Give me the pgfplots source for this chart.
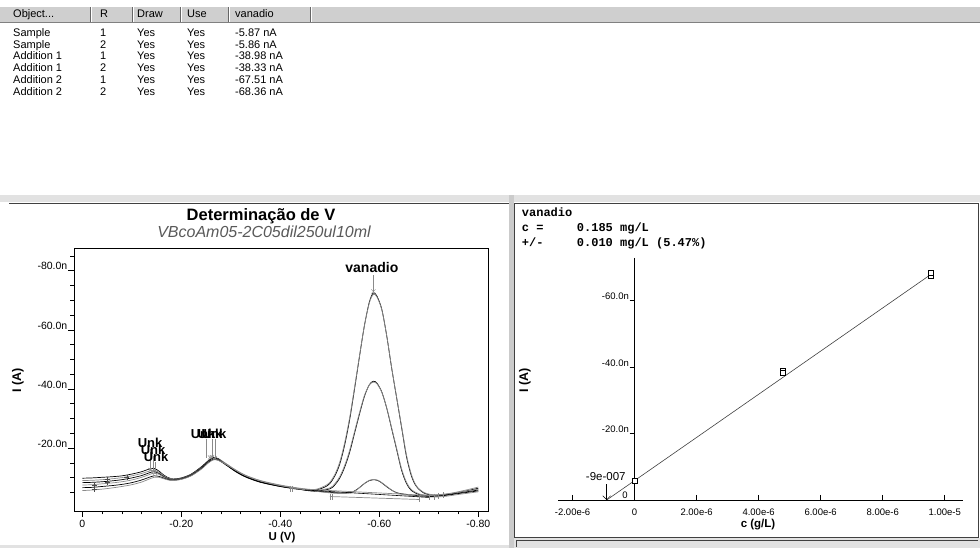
\documentclass[border=0pt]{standalone}
\usepackage{pgfplots}
\pgfplotsset{compat=1.18}
\usetikzlibrary{arrows.meta}
\usepackage{fontspec}
\setmainfont{Liberation Sans}
\newfontfamily\monofont{Liberation Mono}
\definecolor{hdr}{HTML}{CFCFCF}
\definecolor{strip}{HTML}{E2E2E2}
\definecolor{crv}{HTML}{8A8A8A}
\definecolor{frm}{HTML}{404040}

\begin{document}
\begin{tikzpicture}
\useasboundingbox (0pt,0pt) rectangle (980pt,548pt);
% --- table at the top
\fill[hdr] (0pt,526pt) rectangle (980pt,541pt);
\draw[gray] (0pt,526pt) -- (980pt,526pt);
\foreach \sx in {90,132,180,228,310}{
  \draw[gray!80!black] (\sx pt,526pt) -- (\sx pt,541pt);
  \draw[white] (\sx pt+1pt,526pt) -- (\sx pt+1pt,541pt);}
\begin{scope}[every node/.style={anchor=base west, inner sep=0pt, font=\fontsize{11}{12}\selectfont}]
\node at (13pt,530pt) {Object...};
\node at (100pt,530pt) {R};
\node at (137pt,530pt) {Draw};
\node at (187pt,530pt) {Use};
\node at (235pt,530pt) {vanadio};
\foreach \nm/\r/\v [count=\i from 0] in {Sample/1/-5.87 nA, Sample/2/-5.86 nA, Addition 1/1/-38.98 nA, Addition 1/2/-38.33 nA, Addition 2/1/-67.51 nA, Addition 2/2/-68.36 nA}{
  \node at (13pt,511.7pt-11.75pt*\i) {\nm};
  \node at (100pt,511.7pt-11.75pt*\i) {\r};
  \node at (137pt,511.7pt-11.75pt*\i) {Yes};
  \node at (187pt,511.7pt-11.75pt*\i) {Yes};
  \node at (235pt,511.7pt-11.75pt*\i) {\v};}
\end{scope}
% --- panel frames
\fill[strip] (0pt,346pt) rectangle (980pt,353pt);
\draw[frm, line width=0.8pt] (9pt,345pt) -- (509pt,345pt);
\fill[strip!90!black] (509pt,0pt) rectangle (514pt,353pt);
\draw[frm, line width=0.8pt] (514pt,11pt) rectangle (978pt,345pt);
\fill[strip] (514pt,0pt) rectangle (980pt,10pt);
\draw[frm] (516pt,1pt) -- (516pt,8pt) -- (978pt,8pt);
\fill[strip] (0pt,0pt) rectangle (509pt,3pt);

% --- titles of the voltammogram
\node[anchor=base, font=\fontsize{16.5}{18}\selectfont\bfseries] at (261pt,327pt) {Determinação de V};
\node[anchor=base, text=black!65, font=\fontsize{16}{18}\selectfont\itshape] at (264pt,310pt) {VBcoAm05-2C05dil250ul10ml};
\node[rotate=90, font=\fontsize{12.5}{14}\selectfont\bfseries] at (18pt,168pt) {I (A)};
\node[font=\fontsize{11.5}{13}\selectfont\bfseries] at (282pt,10pt) {U (V)};

\begin{axis}[
  at={(74pt,37pt)}, anchor=south west, scale only axis,
  width=414pt, height=263pt,
  xmin=-0.8196, xmax=0.0168, x dir=reverse,
  ymin=-87.7, ymax=1.3, y dir=reverse,
  xtick={0,-0.2,-0.4,-0.6,-0.8},
  xticklabels={0,-0.20,-0.40,-0.60,-0.80},
  minor xtick={-0.04,-0.08,-0.12,-0.16,-0.24,-0.28,-0.32,-0.36,-0.44,-0.48,-0.52,-0.56,-0.64,-0.68,-0.72,-0.76},
  ytick={-80,-60,-40,-20},
  yticklabels={-80.0n,-60.0n,-40.0n,-20.0n},
  minor ytick={-85,-75,-70,-65,-55,-50,-45,-35,-30,-25,-15,-10,-5},
  xtick pos=left, ytick pos=left, tick align=outside,
  major tick length=6pt, minor tick length=3.5pt,
  tick style={black, line width=0.6pt},
  axis line style={line width=0.8pt},
  ticklabel style={font=\fontsize{10.5}{12}\selectfont},
  yticklabel style={anchor=south east, inner sep=0.5pt, yshift=0pt},
  scaled x ticks=false, scaled y ticks=false,
  clip=false,
]
% Addition 2, replicate 1
\addplot[black, line width=0.7pt, smooth, tension=0.5] coordinates {
(0,-9.8) (-0.02,-9.9) (-0.04,-10.1) (-0.06,-10.3) (-0.08,-10.6) (-0.10,-11.2) (-0.12,-12.0) (-0.135,-12.9) (-0.145,-13.1) (-0.155,-12.2) (-0.165,-10.8) (-0.18,-9.6) (-0.20,-9.9) (-0.22,-11.2) (-0.24,-13.6) (-0.255,-15.8) (-0.265,-16.8) (-0.275,-16.4) (-0.29,-14.6) (-0.31,-12.2) (-0.33,-10.4) (-0.36,-8.6) (-0.40,-7.2) (-0.44,-6.2) (-0.47,-5.8) (-0.49,-6.8) (-0.50,-8.0) (-0.51,-10.5) (-0.52,-14.5) (-0.53,-21) (-0.54,-29.5) (-0.55,-40) (-0.56,-51) (-0.57,-61.5) (-0.58,-69.5) (-0.588,-72.5) (-0.595,-71.5) (-0.605,-67) (-0.615,-58) (-0.625,-47) (-0.635,-37) (-0.645,-27) (-0.655,-17) (-0.665,-10.5) (-0.675,-7) (-0.69,-4.8) (-0.71,-4.0) (-0.74,-4.4) (-0.77,-5.3) (-0.80,-6.4)};
% Addition 2, replicate 2
\addplot[crv, line width=0.7pt, smooth, tension=0.5] coordinates {
(0,-9.0) (-0.02,-9.1) (-0.04,-9.3) (-0.06,-9.6) (-0.08,-10.0) (-0.10,-10.6) (-0.12,-11.4) (-0.135,-12.2) (-0.145,-12.5) (-0.155,-11.8) (-0.165,-10.6) (-0.18,-9.5) (-0.20,-9.8) (-0.22,-11.0) (-0.24,-13.4) (-0.255,-15.6) (-0.265,-16.6) (-0.275,-16.3) (-0.29,-14.8) (-0.31,-12.6) (-0.33,-10.8) (-0.36,-9.0) (-0.40,-7.5) (-0.44,-6.4) (-0.47,-6.0) (-0.49,-7.2) (-0.50,-8.4) (-0.51,-11.0) (-0.52,-15.2) (-0.53,-21.8) (-0.54,-30.2) (-0.55,-40.5) (-0.56,-51.2) (-0.57,-61.5) (-0.58,-69.2) (-0.588,-72.0) (-0.595,-71.2) (-0.605,-66.8) (-0.615,-58) (-0.625,-47.2) (-0.635,-37.2) (-0.645,-27.4) (-0.655,-17.6) (-0.665,-11) (-0.675,-7.2) (-0.69,-5.0) (-0.71,-4.2) (-0.74,-4.6) (-0.77,-5.6) (-0.80,-6.8)};
% Addition 1, replicate 1
\addplot[black, line width=0.7pt, smooth, tension=0.5] coordinates {
(0,-8.3) (-0.02,-8.4) (-0.04,-8.6) (-0.06,-8.9) (-0.08,-9.3) (-0.10,-9.9) (-0.12,-10.7) (-0.135,-11.6) (-0.145,-12.0) (-0.155,-11.4) (-0.165,-10.3) (-0.18,-9.3) (-0.20,-9.7) (-0.22,-10.9) (-0.24,-13.3) (-0.255,-15.6) (-0.265,-16.6) (-0.275,-16.2) (-0.29,-14.4) (-0.31,-12.0) (-0.33,-10.2) (-0.36,-8.4) (-0.40,-7.0) (-0.44,-6.0) (-0.47,-5.4) (-0.50,-6.2) (-0.51,-7.5) (-0.52,-9.8) (-0.53,-13.5) (-0.54,-18.5) (-0.55,-25) (-0.56,-31.5) (-0.57,-37.5) (-0.58,-41.5) (-0.588,-42.6) (-0.595,-42) (-0.605,-39) (-0.615,-33.5) (-0.625,-26.5) (-0.635,-19.5) (-0.645,-12.5) (-0.655,-8) (-0.665,-5.6) (-0.68,-4.3) (-0.70,-3.9) (-0.73,-4.1) (-0.76,-4.8) (-0.80,-5.8)};
% Addition 1, replicate 2
\addplot[crv, line width=0.7pt, smooth, tension=0.5] coordinates {
(0,-7.5) (-0.02,-7.6) (-0.04,-7.9) (-0.06,-8.2) (-0.08,-8.6) (-0.10,-9.2) (-0.12,-10.1) (-0.135,-11.0) (-0.145,-11.5) (-0.155,-11.1) (-0.165,-10.1) (-0.18,-9.2) (-0.20,-9.6) (-0.22,-10.8) (-0.24,-13.1) (-0.255,-15.3) (-0.265,-16.3) (-0.275,-16.0) (-0.29,-14.6) (-0.31,-12.4) (-0.33,-10.6) (-0.36,-8.8) (-0.40,-7.3) (-0.44,-6.2) (-0.47,-5.6) (-0.50,-6.5) (-0.51,-7.9) (-0.52,-10.3) (-0.53,-14.1) (-0.54,-19.2) (-0.55,-25.6) (-0.56,-32) (-0.57,-37.8) (-0.58,-41.4) (-0.588,-42.3) (-0.595,-41.8) (-0.605,-38.9) (-0.615,-33.6) (-0.625,-26.8) (-0.635,-19.9) (-0.645,-13) (-0.655,-8.4) (-0.665,-5.9) (-0.68,-4.5) (-0.70,-4.0) (-0.73,-4.3) (-0.76,-5.0) (-0.80,-6.1)};
% Sample, replicate 1
\addplot[black, line width=0.7pt, smooth, tension=0.5] coordinates {
(0,-6.6) (-0.02,-6.7) (-0.04,-7.0) (-0.06,-7.3) (-0.08,-7.7) (-0.10,-8.3) (-0.12,-9.2) (-0.135,-10.1) (-0.145,-10.6) (-0.155,-10.4) (-0.165,-9.8) (-0.18,-9.1) (-0.20,-9.5) (-0.22,-10.7) (-0.24,-13.0) (-0.255,-15.2) (-0.265,-16.2) (-0.275,-15.9) (-0.29,-14.3) (-0.31,-12.1) (-0.33,-10.3) (-0.36,-8.5) (-0.40,-7.0) (-0.44,-6.0) (-0.48,-5.3) (-0.52,-4.8) (-0.545,-5.0) (-0.555,-6.0) (-0.57,-8.0) (-0.58,-9.0) (-0.588,-9.3) (-0.597,-9.0) (-0.605,-8.2) (-0.62,-6.3) (-0.635,-4.9) (-0.66,-4.2) (-0.70,-3.6) (-0.73,-3.9) (-0.76,-4.6) (-0.80,-5.5)};
% Sample, replicate 2
\addplot[crv, line width=0.7pt, smooth, tension=0.5] coordinates {
(0,-5.6) (-0.02,-5.8) (-0.04,-6.1) (-0.06,-6.5) (-0.08,-7.0) (-0.10,-7.6) (-0.12,-8.5) (-0.135,-9.5) (-0.145,-10.1) (-0.155,-10.1) (-0.165,-9.6) (-0.18,-9.0) (-0.20,-9.4) (-0.22,-10.6) (-0.24,-12.8) (-0.255,-15.0) (-0.265,-16.0) (-0.275,-15.8) (-0.29,-14.5) (-0.31,-12.5) (-0.33,-10.7) (-0.36,-8.9) (-0.40,-7.3) (-0.44,-6.2) (-0.48,-5.2) (-0.52,-4.6) (-0.545,-4.9) (-0.555,-5.9) (-0.57,-8.0) (-0.58,-9.1) (-0.588,-9.4) (-0.597,-9.1) (-0.605,-8.3) (-0.62,-6.4) (-0.635,-4.8) (-0.66,-4.0) (-0.70,-3.4) (-0.73,-3.6) (-0.76,-4.3) (-0.80,-5.2)};
% peak baselines
\addplot[crv, line width=0.7pt] coordinates {(-0.42,-6.3) (-0.72,-3.8)};
\addplot[black, line width=0.6pt] coordinates {(-0.45,-5.8) (-0.70,-3.3)};
\addplot[crv, line width=0.7pt] coordinates {(-0.50,-3.6) (-0.68,-2.6)};
% baseline markers
\addplot[only marks, mark=|, mark size=3pt, crv] coordinates {(-0.42,-6.3) (-0.425,-6.2) (-0.50,-3.6) (-0.505,-3.5) (-0.68,-2.6) (-0.70,-3.3) (-0.71,-3.6) (-0.72,-3.8) (-0.73,-4.0)};
\addplot[only marks, mark=+, mark size=2.5pt, black!70] coordinates {(-0.025,-6.0) (-0.025,-7.4) (-0.05,-8.4) (-0.05,-9.5) (-0.09,-10.1)};
% peak markers and labels
\addplot[only marks, mark=x, mark size=3pt, crv] coordinates {(-0.588,-73) (-0.137,-12.6) (-0.143,-12.1) (-0.147,-11.6) (-0.258,-16.8) (-0.262,-16.9) (-0.268,-16.6)};
\addplot[crv] coordinates {(-0.588,-78.5) (-0.588,-73)};
\addplot[crv] coordinates {(-0.137,-19.6) (-0.137,-12.6)};
\addplot[crv] coordinates {(-0.143,-17.4) (-0.143,-12.1)};
\addplot[crv] coordinates {(-0.147,-15.2) (-0.147,-11.6)};
\addplot[crv] coordinates {(-0.250,-23) (-0.250,-16.8)};
\addplot[crv] coordinates {(-0.262,-23) (-0.262,-16.9)};
\addplot[crv] coordinates {(-0.268,-23) (-0.268,-16.6)};
\node[font=\fontsize{14}{16}\selectfont\bfseries] at (axis cs:-0.585,-81) {vanadio};
\begin{scope}[every node/.style={font=\fontsize{13}{15}\selectfont\bfseries, inner sep=0pt}]
\node at (axis cs:-0.137,-21.6) {Unk};
\node at (axis cs:-0.143,-19.3) {Unk};
\node at (axis cs:-0.149,-17.1) {Unk};
\node at (axis cs:-0.244,-24.8) {Unk};
\node at (axis cs:-0.258,-24.8) {Unk};
\node at (axis cs:-0.266,-24.8) {Unk};
\end{scope}
\end{axis}

% --- standard addition panel
\begin{scope}[every node/.style={anchor=base west, inner sep=0pt, font=\monofont\bfseries\fontsize{12}{14}\selectfont}]
\node at (521.7pt,331.7pt) {vanadio};
\node at (521.7pt,316.7pt) {c =};
\node at (521.7pt,301.7pt) {+/-};
\node at (576.7pt,316.7pt) {0.185 mg/L};
\node at (576.7pt,301.7pt) {0.010 mg/L (5.47\%)};
\end{scope}
\node[rotate=90, font=\fontsize{12.5}{14}\selectfont\bfseries] at (525pt,168pt) {I (A)};
\node[font=\fontsize{11.5}{13}\selectfont\bfseries] at (758pt,23pt) {c (g/L)};

\begin{axis}[
  at={(558pt,48pt)}, anchor=south west, scale only axis,
  width=405pt, height=242pt,
  axis lines=middle, axis line style={-, line width=0.8pt},
  xmin=-2.47e-6, xmax=10.59e-6,
  ymin=-72.8, ymax=0, y dir=reverse,
  xtick={-2e-6,0,2e-6,4e-6,6e-6,8e-6,1e-5},
  xticklabels={-2.00e-6,0,2.00e-6,4.00e-6,6.00e-6,8.00e-6,1.00e-5},
  ytick={-60,-40,-20},
  yticklabels={-60.0n,-40.0n,-20.0n},
  hide obscured x ticks=false, hide obscured y ticks=false,
  scaled x ticks=false, scaled y ticks=false,
  tick align=outside, major tick length=5pt,
  tick style={black, line width=0.6pt},
  ticklabel style={font=\fontsize{9.5}{11}\selectfont},
  yticklabel style={anchor=south east, inner sep=0.5pt},
  clip=false,
]
\addplot[black!75, line width=0.6pt] coordinates {(-0.9e-6,0) (9.56e-6,-67.9)};
\addplot[only marks, mark=square*, mark size=2.3pt, mark options={fill=white, draw=black, line width=0.6pt}] coordinates {
(0,-5.87) (0,-5.86) (4.77e-6,-38.98) (4.77e-6,-38.33) (9.56e-6,-67.51) (9.56e-6,-68.36)};
\addplot[black, -{Straight Barb[length=4pt]}] coordinates {(-0.9e-6,-4.7) (-0.9e-6,0)};
\node[font=\fontsize{11.5}{13}\selectfont] at (axis cs:-0.93e-6,-7.1) {-9e-007};
\node[font=\fontsize{9.5}{11}\selectfont] at (axis cs:-0.31e-6,-1.3) {0};
\end{axis}
\end{tikzpicture}
\end{document}
